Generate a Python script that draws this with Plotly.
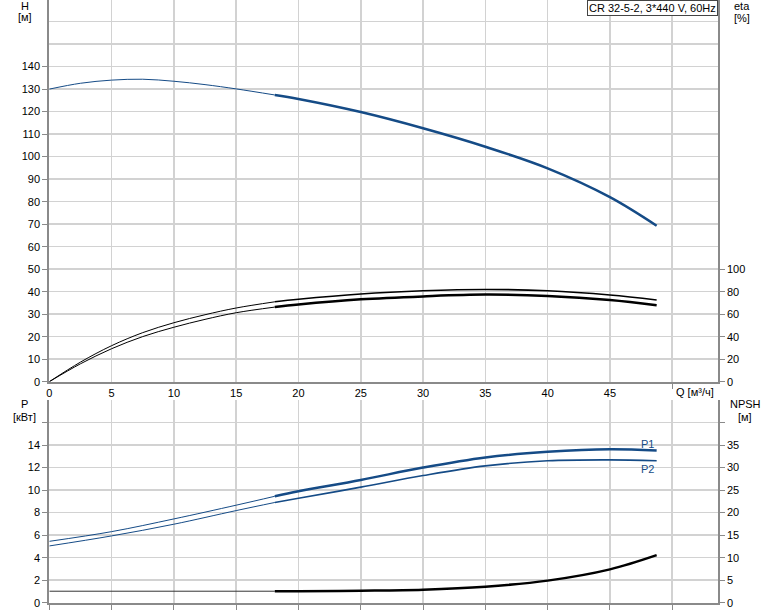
import plotly.graph_objects as go

W, H = 774, 611

# ---------------- data ----------------
q_thin = [0, 2.5, 5, 7.5, 10, 12.5, 15, 18.1]
q_thick = [18.1, 20, 25, 30, 35, 40, 45, 48.75]

head_thin = [130, 132.6, 134.0, 134.4, 133.5, 132.0, 130.1, 127.4]
head_thick = [127.4, 125.6, 119.8, 112.6, 104.4, 94.8, 82.0, 69.3]

eta_pump_thin = [0, 17.4, 32, 43.6, 52.4, 59.5, 65.5, 71.0]
eta_pump_thick = [71.0, 73.3, 78, 80.8, 82, 80.8, 77, 72.6]

eta_total_thin = [0, 15.9, 29.3, 40.1, 48.4, 55.4, 61.3, 66.3]
eta_total_thick = [66.3, 68.6, 73.2, 75.8, 77.4, 76.2, 72.6, 68.0]

q_p_thin = [0, 5, 10, 15, 18.1]
p1_thin = [5.45, 6.31, 7.44, 8.66, 9.45]
p2_thin = [5.04, 5.93, 6.97, 8.18, 8.90]
p1_thick = [9.45, 9.9, 10.9, 12.0, 12.9, 13.4, 13.63, 13.51]
p2_thick = [8.90, 9.27, 10.26, 11.29, 12.15, 12.6, 12.68, 12.6]

q_npsh_thin = [0, 18.1]
npsh_thin = [2.55, 2.55]
npsh_thick = [2.55, 2.55, 2.67, 2.9, 3.56, 4.9, 7.4, 10.55]

q_ticks = [0, 5, 10, 15, 20, 25, 30, 35, 40, 45]
h_ticks = [0, 10, 20, 30, 40, 50, 60, 70, 80, 90, 100, 110, 120, 130, 140]
eta_ticks = [0, 20, 40, 60, 80, 100]
p_ticks = [0, 2, 4, 6, 8, 10, 12, 14, 16]
p_labels = ["0", "2", "4", "6", "8", "10", "12", "14", ""]
npsh_ticks = [0, 5, 10, 15, 20, 25, 30, 35, 40]
npsh_labels = ["0", "5", "10", "15", "20", "25", "30", "35", ""]

title_text = "CR 32-5-2, 3*440 V, 60Hz"

# ---------------- style ----------------
BLUE = "#154b86"
BLACK = "#000000"
GRID = "#d2d2d2"
AXIS = "#8a8a8a"
FONT = dict(family="Liberation Sans, Arial, sans-serif", size=11, color="#000000")

X0, X1 = 49.3 / W, 717.7 / W
TOP_Y0, TOP_Y1 = 1 - 381.7 / H, 1.0
BOT_Y0, BOT_Y1 = 1 - 602.7 / H, 1 - 400 / H

fig = go.Figure()

def line(x, y, xa, ya, color, width):
    fig.add_trace(go.Scatter(x=x, y=y, xaxis=xa, yaxis=ya, mode="lines",
                             line=dict(color=color, width=width, shape="spline", smoothing=1.0),
                             hoverinfo="skip", showlegend=False))

# top plot
line(q_thin, head_thin, "x", "y", BLUE, 1)
line(q_thick, head_thick, "x", "y", BLUE, 2.5)
line(q_thin, eta_pump_thin, "x", "y2", BLACK, 1)
line(q_thick, eta_pump_thick, "x", "y2", BLACK, 1.6)
line(q_thin, eta_total_thin, "x", "y2", BLACK, 1)
line(q_thick, eta_total_thick, "x", "y2", BLACK, 2.5)

# bottom plot
line(q_p_thin, p1_thin, "x2", "y3", BLUE, 1)
line(q_thick, p1_thick, "x2", "y3", BLUE, 2.5)
line(q_p_thin, p2_thin, "x2", "y3", BLUE, 1)
line(q_thick, p2_thick, "x2", "y3", BLUE, 1.6)
line(q_npsh_thin, npsh_thin, "x2", "y4", "#333333", 1)
line(q_thick, npsh_thick, "x2", "y4", BLACK, 2.5)

XR = [0, 53.65]
common_x = dict(range=XR, domain=[X0, X1], showline=True, linecolor=AXIS, linewidth=2,
                zeroline=False, showgrid=True, gridcolor=GRID, gridwidth=1.5,
                tickfont=FONT, fixedrange=True, automargin=False)

fig.update_layout(
    width=W, height=H,
    margin=dict(l=0, r=0, t=0, b=0, autoexpand=False),
    paper_bgcolor="white", plot_bgcolor="white",
    font=FONT,
    showlegend=False,
    xaxis=dict(**common_x, anchor="y", tickvals=q_ticks, ticks="",
               minor=dict(tickvals=[50], ticks="outside", ticklen=5, tickcolor=AXIS,
                          showgrid=True, gridcolor=GRID, gridwidth=1.5)),
    yaxis=dict(domain=[TOP_Y0, TOP_Y1], range=[0, 169.6], anchor="x",
               tickvals=h_ticks, ticks="outside", ticklen=5, tickcolor=AXIS,
               showline=True, linecolor=AXIS, linewidth=2, zeroline=False,
               showgrid=True, gridcolor=GRID, gridwidth=1.5, tickfont=FONT,
               automargin=False, fixedrange=True,
               minor=dict(tickvals=[150, 160], ticks="", showgrid=True,
                          gridcolor=GRID, gridwidth=1.5)),
    yaxis2=dict(overlaying="y", side="right", anchor="x", range=[0, 339.2],
                tickvals=eta_ticks, ticks="outside", ticklen=5, tickcolor=AXIS,
                showline=True, linecolor=AXIS, linewidth=2, zeroline=False,
                showgrid=False, tickfont=FONT, automargin=False, fixedrange=True),
    xaxis2=dict(**common_x, anchor="y3", tickvals=q_ticks + [50], ticks="outside",
                ticklen=5, tickcolor=AXIS, showticklabels=False),
    yaxis3=dict(domain=[BOT_Y0, BOT_Y1], range=[0, 18], anchor="x2",
                tickvals=p_ticks, ticktext=p_labels, ticks="outside", ticklen=5,
                tickcolor=AXIS, showline=True, linecolor=AXIS, linewidth=2,
                zeroline=False, showgrid=True, gridcolor=GRID, gridwidth=1.5,
                tickfont=FONT, automargin=False, fixedrange=True,
                minor=dict(tickvals=[18], ticks="", showgrid=True,
                           gridcolor=GRID, gridwidth=1.5)),
    yaxis4=dict(overlaying="y3", side="right", anchor="x2", range=[0, 45],
                tickvals=npsh_ticks, ticktext=npsh_labels, ticks="outside",
                ticklen=5, tickcolor=AXIS, showline=True, linecolor=AXIS,
                linewidth=2, zeroline=False, showgrid=False, tickfont=FONT,
                automargin=False, fixedrange=True),
)

def px_note(text, x, y, **kw):
    fig.add_annotation(text=text, x=x / W, y=1 - y / H, xref="paper", yref="paper",
                       showarrow=False, font=FONT, xanchor="center", yanchor="middle", **kw)

px_note("H", 25, 6)
px_note("[м]", 25, 17)
px_note("eta", 741.5, 6)
px_note("[%]", 741.5, 18)
px_note("P", 25, 404)
px_note("[кВт]", 25, 417)
px_note("NPSH", 745, 404)
px_note("[м]", 745, 417)
px_note("Q [м³/ч]", 695, 392)

fig.add_annotation(text="P1", x=48.05, y=14.1, xref="x2", yref="y3", showarrow=False,
                   font=dict(family=FONT["family"], size=11, color=BLUE))
fig.add_annotation(text="P2", x=48.05, y=11.9, xref="x2", yref="y3", showarrow=False,
                   font=dict(family=FONT["family"], size=11, color=BLUE))

fig.add_annotation(text=title_text, x=X1, y=1, xref="paper", yref="paper",
                   xanchor="right", yanchor="top", showarrow=False, font=FONT,
                   bgcolor="white", bordercolor="#444444", borderwidth=1, borderpad=1)

fig.write_html("out.html", config={"displayModeBar": False, "staticPlot": True},
               post_script="document.body.style.margin='0';document.body.style.overflow='hidden';")
